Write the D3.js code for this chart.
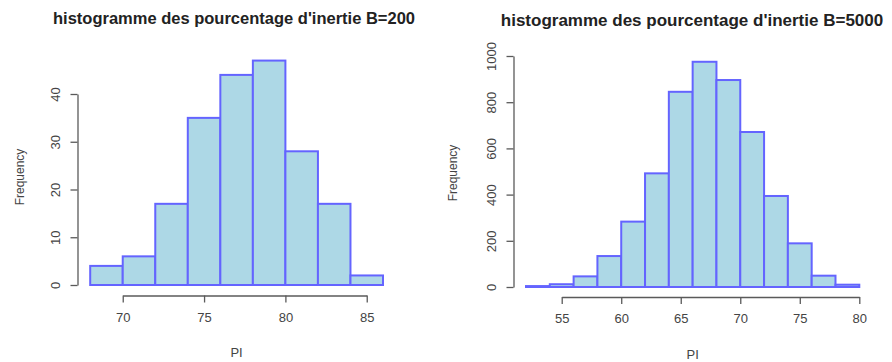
<!DOCTYPE html>
<html>
<head>
<meta charset="utf-8">
<script src="https://cdn.jsdelivr.net/npm/d3@7/dist/d3.min.js"></script>
<style>
  html, body { margin: 0; padding: 0; background: #fff; }
  svg { display: block; font-family: "Liberation Sans", Arial, sans-serif; }
</style>
</head>
<body>
<svg id="chart" width="892" height="362"></svg>
<script>
// Histogram of inertia percentages, B = 200 resamples (bins of width 2)
const binStartsA = [68, 70, 72, 74, 76, 78, 80, 82, 84];
const countsA    = [4, 6, 17, 35, 44, 47, 28, 17, 2];
const xTicksA    = [70, 75, 80, 85];
const yTicksA    = [0, 10, 20, 30, 40];

// Histogram of inertia percentages, B = 5000 resamples (bins of width 2)
const binStartsB = [52, 54, 56, 58, 60, 62, 64, 66, 68, 70, 72, 74, 76, 78];
const countsB    = [4, 12, 46, 134, 283, 492, 845, 975, 896, 671, 394, 189, 49, 10];
const xTicksB    = [55, 60, 65, 70, 75, 80];
const yTicksB    = [0, 200, 400, 600, 800, 1000];

const titleA = "histogramme des pourcentage d'inertie B=200";
const titleB = "histogramme des pourcentage d'inertie B=5000";
const xLabel = "PI";
const yLabel = "Frequency";
const binWidth = 2;

const svg = d3.select("#chart");

function histogram(cfg) {
  const g = svg.append("g");
  const x = d3.scaleLinear().domain(cfg.xDomain).range(cfg.xRange);
  const y = d3.scaleLinear().domain([0, d3.max(cfg.yTicks)]).range(cfg.yRange);

  // bars
  g.selectAll("rect.bar")
    .data(cfg.starts.map((s, i) => ({ s, c: cfg.counts[i] })))
    .join("rect")
    .attr("class", "bar")
    .attr("x", d => x(d.s))
    .attr("y", d => y(d.c))
    .attr("width", d => x(d.s + binWidth) - x(d.s))
    .attr("height", d => y(0) - y(d.c))
    .attr("fill", "#ADD8E6")
    .attr("stroke", "#6464ff")
    .attr("stroke-width", 2);

  // x axis, line spanning first to last tick
  const xt = cfg.xTicks;
  const xa = d3.scaleLinear().domain([xt[0], xt[xt.length - 1]])
    .range([x(xt[0]), x(xt[xt.length - 1])]);
  const gx = g.append("g")
    .attr("transform", `translate(0,${cfg.xAxisY})`)
    .call(d3.axisBottom(xa).tickValues(xt).tickSize(7).tickSizeOuter(0).tickPadding(10).tickFormat(d3.format("d")));

  // y axis, line spanning first to last tick
  const yt = cfg.yTicks;
  const gy = g.append("g")
    .attr("transform", `translate(${cfg.yAxisX},0)`)
    .call(d3.axisLeft(y).tickValues(yt).tickSize(7).tickSizeOuter(0).tickFormat(d3.format("d")));
  gy.selectAll(".tick text")
    .attr("transform", "rotate(-90)")
    .attr("x", 0).attr("y", -18)
    .attr("dy", "0")
    .attr("text-anchor", "middle");

  [gx, gy].forEach(a => {
    a.selectAll(".domain, .tick line").attr("stroke", "#5a5a5a").attr("stroke-width", 1.3);
    a.selectAll(".tick text").attr("fill", "#444").attr("font-size", 13);
  });

  // title and axis labels
  g.append("text")
    .attr("x", cfg.titleX).attr("y", cfg.titleY)
    .attr("text-anchor", "middle")
    .attr("font-weight", "bold").attr("font-size", cfg.titleSize).attr("fill", "#222")
    .text(cfg.title);
  g.append("text")
    .attr("x", (cfg.xRange[0] + cfg.xRange[1]) / 2).attr("y", cfg.xLabelY)
    .attr("text-anchor", "middle")
    .attr("font-size", 13).attr("fill", "#444")
    .text(xLabel);
  g.append("text")
    .attr("transform", `translate(${cfg.yLabelX},${cfg.yLabelY}) rotate(-90)`)
    .attr("text-anchor", "middle")
    .attr("font-size", 12).attr("fill", "#444")
    .text(yLabel);
}

histogram({
  starts: binStartsA, counts: countsA, xTicks: xTicksA, yTicks: yTicksA,
  xDomain: [68, 86], xRange: [90.2, 383],
  yRange: [285, 94],
  xAxisY: 295.5, yAxisX: 77.5,
  title: titleA, titleX: 234, titleY: 24, titleSize: 16.5,
  xLabelY: 357, yLabelX: 24, yLabelY: 177
});

histogram({
  starts: binStartsB, counts: countsB, xTicks: xTicksB, yTicks: yTicksB,
  xDomain: [52, 80], xRange: [526, 859.3],
  yRange: [287, 56],
  xAxisY: 297, yAxisX: 513.5,
  title: titleB, titleX: 692, titleY: 26, titleSize: 17,
  xLabelY: 359, yLabelX: 457, yLabelY: 173
});
</script>
</body>
</html>
